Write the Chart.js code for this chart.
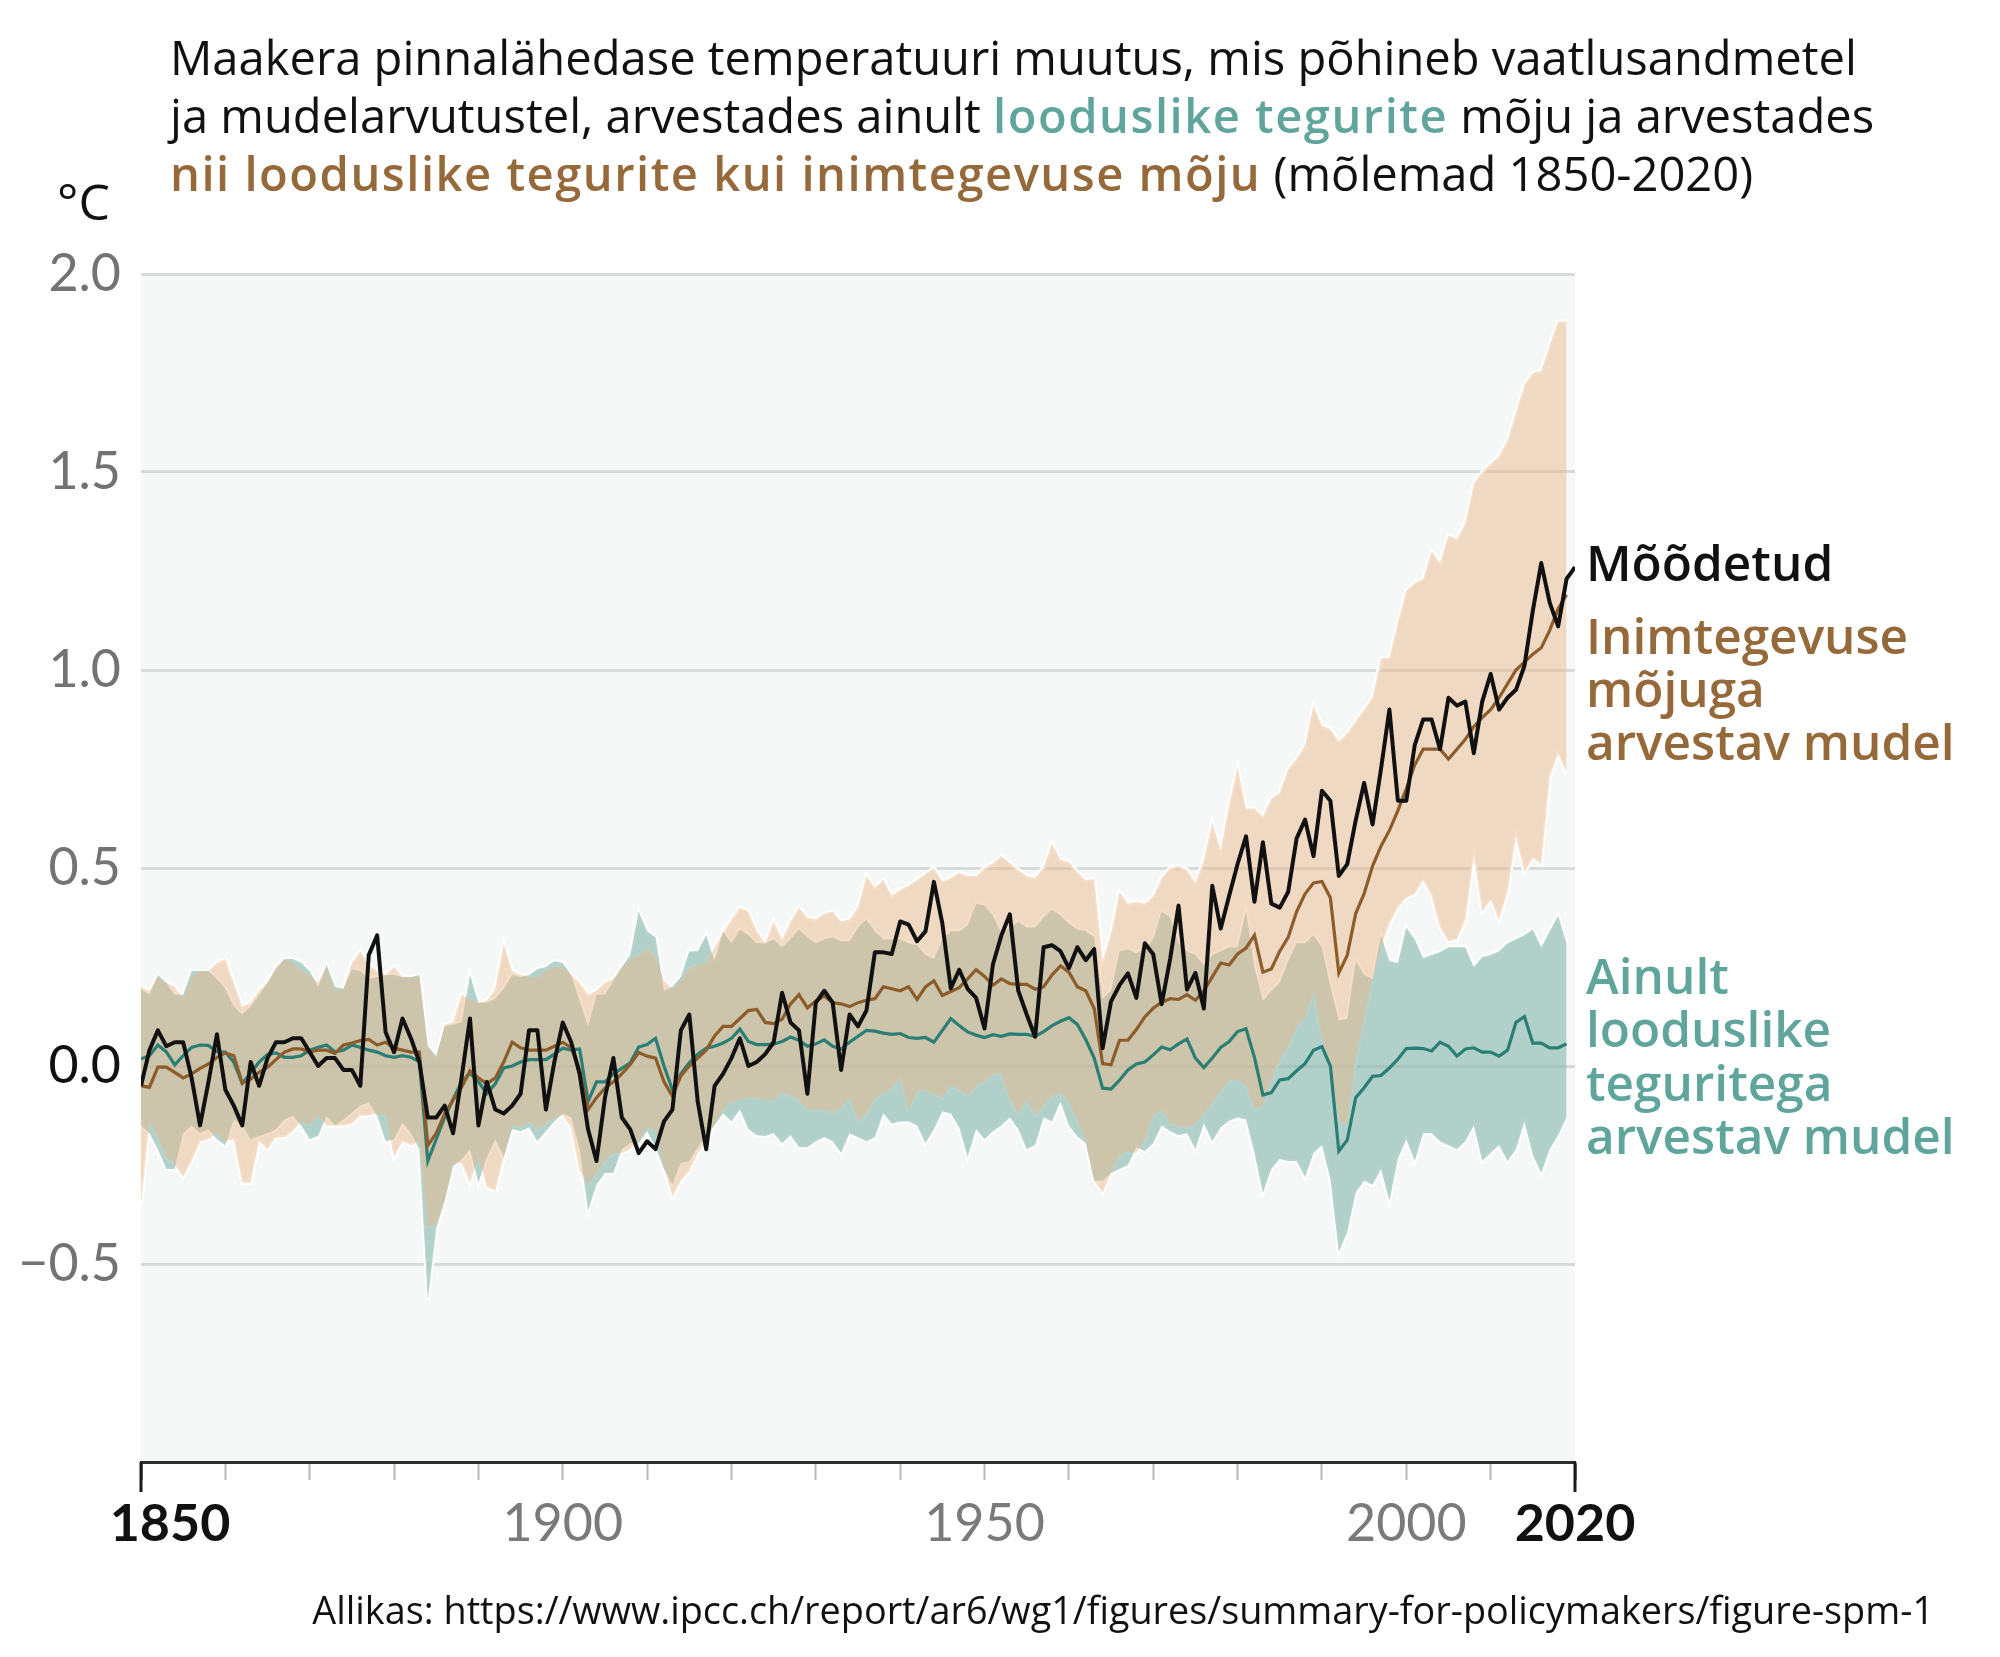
<!DOCTYPE html>
<html>
<head>
<meta charset="utf-8">
<script src="https://cdn.jsdelivr.net/npm/chart.js@4.4.1/dist/chart.umd.min.js"></script>
<style>
html,body{margin:0;padding:0;background:#ffffff;}
canvas{display:block;}
</style>
</head>
<body>
<canvas id="c" width="2000" height="1657"></canvas>
<script>
// ---------------- DATA (°C, relative to 1850-1900) ----------------
const firstYear = 1850;

// Observed (Mõõdetud), 1850-2020
const observed = [
  -0.05, 0.04, 0.09, 0.05, 0.06, 0.06, -0.03, -0.15, -0.04, 0.08,
  -0.06, -0.10, -0.15, 0.01, -0.05, 0.02, 0.06, 0.06, 0.07, 0.07,
  0.035, 0.00, 0.02, 0.02, -0.01, -0.01, -0.05, 0.28, 0.33, 0.085,
  0.035, 0.12, 0.07, 0.01, -0.13, -0.13, -0.10, -0.17, -0.03, 0.12,
  -0.15, -0.04, -0.11, -0.12, -0.10, -0.07, 0.09, 0.09, -0.11, 0.01,
  0.11, 0.06, -0.02, -0.16, -0.24, -0.08, 0.02, -0.13, -0.16, -0.22,
  -0.19, -0.21, -0.14, -0.11, 0.09, 0.13, -0.09, -0.21, -0.05, -0.02,
  0.02, 0.07, 0.00, 0.01, 0.03, 0.06, 0.185, 0.11, 0.09, -0.07,
  0.16, 0.19, 0.16, -0.01, 0.13, 0.10, 0.14, 0.287, 0.287, 0.283,
  0.365, 0.357, 0.315, 0.34, 0.465, 0.36, 0.196, 0.243, 0.195, 0.172,
  0.095, 0.257, 0.33, 0.383, 0.19, 0.13, 0.074, 0.30, 0.305, 0.29,
  0.247, 0.30, 0.267, 0.295, 0.045, 0.163, 0.204, 0.234, 0.172, 0.31,
  0.282, 0.156, 0.27, 0.405, 0.193, 0.235, 0.145, 0.455, 0.347, 0.43,
  0.51, 0.58, 0.415, 0.565, 0.41, 0.40, 0.44, 0.575, 0.622, 0.53,
  0.695, 0.67, 0.48, 0.51, 0.62, 0.715, 0.61, 0.75, 0.90, 0.67,
  0.67, 0.81, 0.875, 0.875, 0.80, 0.93, 0.91, 0.92, 0.79, 0.92,
  0.99, 0.90, 0.93, 0.95, 1.01, 1.15, 1.27, 1.17, 1.11, 1.23,
  1.26
];

// Model mean, human + natural factors, 1850-2019
const humanMean = [
  -0.05, -0.054, -0.003, -0.003, -0.016, -0.03, -0.02, -0.006, 0.005, 0.022,
  0.033, 0.026, -0.043, -0.033, -0.016, -0.003, 0.016, 0.035, 0.043, 0.043,
  0.036, 0.04, 0.04, 0.032, 0.053, 0.058, 0.064, 0.067, 0.053, 0.06,
  0.045, 0.04, 0.035, 0.035, -0.20, -0.17, -0.12, -0.086, -0.054, -0.012,
  -0.03, -0.045, -0.03, 0.01, 0.06, 0.046, 0.04, 0.04, 0.04, 0.05,
  0.06, 0.046, -0.01, -0.11, -0.08, -0.056, -0.04, -0.02, 0.004, 0.034,
  0.025, 0.02, -0.04, -0.076, -0.025, 0.0, 0.02, 0.04, 0.076, 0.10,
  0.10, 0.12, 0.14, 0.143, 0.11, 0.107, 0.118, 0.157, 0.18, 0.147,
  0.164, 0.177, 0.16, 0.157, 0.15, 0.16, 0.166, 0.17, 0.20, 0.195,
  0.19, 0.20, 0.168, 0.20, 0.215, 0.178, 0.188, 0.198, 0.22, 0.243,
  0.226, 0.204, 0.22, 0.208, 0.206, 0.206, 0.194, 0.20, 0.23, 0.253,
  0.237, 0.20, 0.19, 0.145, 0.006, 0.003, 0.065, 0.065, 0.092, 0.124,
  0.146, 0.161, 0.17, 0.168, 0.18, 0.166, 0.19, 0.225, 0.26, 0.255,
  0.283, 0.298, 0.33, 0.237, 0.245, 0.29, 0.325, 0.39, 0.435, 0.462,
  0.466, 0.425, 0.235, 0.28, 0.385, 0.435, 0.505, 0.555, 0.595, 0.645,
  0.70, 0.76, 0.80, 0.80, 0.80, 0.775, 0.80, 0.825, 0.857, 0.88,
  0.90, 0.93, 0.965, 1.0, 1.02, 1.04, 1.056, 1.10, 1.155, 1.19
];
const humanUpper = [
  0.20, 0.19, 0.225, 0.21, 0.20, 0.17, 0.225, 0.24, 0.24, 0.26,
  0.27, 0.21, 0.15, 0.16, 0.19, 0.21, 0.25, 0.27, 0.26, 0.24,
  0.23, 0.21, 0.25, 0.19, 0.195, 0.26, 0.29, 0.255, 0.24, 0.23,
  0.25, 0.225, 0.225, 0.225, 0.05, 0.02, 0.105, 0.11, 0.18, 0.17,
  0.16, 0.165, 0.195, 0.31, 0.24, 0.23, 0.225, 0.225, 0.24, 0.25,
  0.25, 0.23, 0.21, 0.18, 0.19, 0.21, 0.22, 0.25, 0.27, 0.28,
  0.295, 0.275, 0.215, 0.195, 0.215, 0.245, 0.255, 0.26, 0.30, 0.335,
  0.37, 0.40, 0.39, 0.34, 0.31, 0.365, 0.32, 0.365, 0.40, 0.375,
  0.37, 0.385, 0.39, 0.365, 0.37, 0.40, 0.48, 0.45, 0.47, 0.43,
  0.445, 0.455, 0.47, 0.485, 0.50, 0.465, 0.475, 0.488, 0.48, 0.48,
  0.50, 0.512, 0.53, 0.512, 0.495, 0.48, 0.475, 0.502, 0.562, 0.52,
  0.515, 0.49, 0.47, 0.472, 0.265, 0.335, 0.44, 0.41, 0.415, 0.41,
  0.428, 0.475, 0.50, 0.505, 0.495, 0.462, 0.52, 0.615, 0.545, 0.66,
  0.755, 0.65, 0.65, 0.63, 0.675, 0.69, 0.75, 0.775, 0.81, 0.91,
  0.86, 0.85, 0.82, 0.84, 0.87, 0.90, 0.93, 1.03, 1.03, 1.12,
  1.20, 1.22, 1.23, 1.30, 1.27, 1.34, 1.33, 1.37, 1.47, 1.50,
  1.52, 1.54, 1.58, 1.65, 1.72, 1.75, 1.755, 1.82, 1.88, 1.88
];
const humanLower = [
  -0.35, -0.14, -0.18, -0.23, -0.25, -0.28, -0.24, -0.19, -0.185, -0.17,
  -0.19, -0.185, -0.295, -0.295, -0.19, -0.21, -0.18, -0.18, -0.165, -0.14,
  -0.15, -0.125, -0.15, -0.15, -0.15, -0.145, -0.125, -0.125, -0.12, -0.125,
  -0.23, -0.19, -0.20, -0.19, -0.405, -0.40, -0.34, -0.245, -0.245, -0.295,
  -0.23, -0.305, -0.315, -0.23, -0.15, -0.155, -0.14, -0.16, -0.145, -0.13,
  -0.125, -0.155, -0.265, -0.30, -0.27, -0.24, -0.22, -0.22, -0.21, -0.19,
  -0.155, -0.165, -0.255, -0.33, -0.29, -0.265, -0.22, -0.19, -0.145, -0.11,
  -0.09, -0.085, -0.08, -0.08, -0.085, -0.085, -0.065, -0.075, -0.085, -0.11,
  -0.11, -0.11, -0.12, -0.105, -0.08, -0.14, -0.12, -0.08, -0.07, -0.055,
  -0.03, -0.11, -0.065, -0.06, -0.07, -0.08, -0.05, -0.06, -0.075, -0.05,
  -0.04, -0.02, -0.02, -0.085, -0.12, -0.085, -0.125, -0.10, -0.075, -0.07,
  -0.09, -0.135, -0.19, -0.29, -0.32, -0.27, -0.225, -0.215, -0.22, -0.185,
  -0.125, -0.11, -0.145, -0.15, -0.155, -0.145, -0.12, -0.095, -0.065, -0.035,
  -0.035, -0.05, -0.11, -0.10, -0.035, 0.015, 0.05, 0.10, 0.12, 0.19,
  0.07, 0.0, -0.135, -0.15, 0.015, 0.12, 0.22, 0.30, 0.36, 0.40,
  0.425, 0.435, 0.47, 0.43, 0.35, 0.315, 0.32, 0.37, 0.53, 0.39,
  0.42, 0.37, 0.44, 0.58, 0.49, 0.525, 0.51, 0.73, 0.79, 0.74
];

// Model mean, natural factors only, 1850-2019
const naturalMean = [
  0.018, 0.026, 0.053, 0.036, 0.003, 0.026, 0.047, 0.053, 0.052, 0.036,
  0.035, 0.01, -0.044, -0.018, 0.01, 0.029, 0.033, 0.022, 0.022, 0.026,
  0.04, 0.047, 0.053, 0.036, 0.04, 0.053, 0.047, 0.04, 0.035, 0.026,
  0.022, 0.026, 0.022, 0.011, -0.24, -0.185, -0.13, -0.084, -0.041, -0.018,
  -0.04, -0.07, -0.045, -0.005, 0.0, 0.01, 0.016, 0.016, 0.016, 0.03,
  0.045, 0.04, 0.043, -0.09, -0.04, -0.04, -0.02, -0.006, 0.008, 0.048,
  0.054, 0.07, 0.0, -0.06, -0.02, 0.008, 0.03, 0.045, 0.05, 0.058,
  0.07, 0.093, 0.062, 0.054, 0.054, 0.055, 0.062, 0.073, 0.065, 0.05,
  0.056, 0.066, 0.05, 0.043, 0.06, 0.075, 0.09, 0.088, 0.083, 0.08,
  0.082, 0.072, 0.07, 0.072, 0.06, 0.09, 0.12, 0.102, 0.086, 0.078,
  0.072, 0.079, 0.075, 0.081, 0.08, 0.08, 0.075, 0.087, 0.102, 0.113,
  0.122, 0.105, 0.067, 0.02, -0.056, -0.058, -0.036, -0.01, 0.005, 0.01,
  0.028, 0.048, 0.041, 0.056, 0.068, 0.02, -0.004, 0.02, 0.047, 0.062,
  0.087, 0.094, 0.022, -0.073, -0.067, -0.035, -0.032, -0.012, 0.006, 0.04,
  0.049, 0.0, -0.215, -0.187, -0.08, -0.055, -0.026, -0.024, -0.005, 0.017,
  0.044, 0.045, 0.044, 0.038, 0.06, 0.05, 0.025, 0.043, 0.046, 0.035,
  0.035, 0.025, 0.04, 0.11, 0.125, 0.058, 0.058, 0.046, 0.046, 0.056
];
const naturalUpper = [
  0.195, 0.18, 0.23, 0.21, 0.18, 0.18, 0.24, 0.24, 0.24, 0.22,
  0.195, 0.15, 0.13, 0.15, 0.18, 0.21, 0.245, 0.27, 0.27, 0.26,
  0.24, 0.20, 0.255, 0.20, 0.195, 0.245, 0.24, 0.22, 0.225, 0.23,
  0.23, 0.225, 0.225, 0.23, 0.05, 0.025, 0.10, 0.105, 0.11, 0.23,
  0.16, 0.16, 0.17, 0.195, 0.23, 0.225, 0.23, 0.245, 0.25, 0.265,
  0.26, 0.23, 0.165, 0.10, 0.18, 0.18, 0.215, 0.25, 0.28, 0.39,
  0.34, 0.325, 0.19, 0.20, 0.225, 0.29, 0.29, 0.33, 0.265, 0.34,
  0.31, 0.345, 0.33, 0.31, 0.31, 0.32, 0.30, 0.32, 0.345, 0.325,
  0.31, 0.32, 0.325, 0.315, 0.315, 0.35, 0.37, 0.34, 0.32, 0.32,
  0.32, 0.31, 0.305, 0.28, 0.27, 0.32, 0.34, 0.34, 0.355, 0.41,
  0.405, 0.38, 0.335, 0.35, 0.365, 0.35, 0.35, 0.375, 0.395, 0.38,
  0.36, 0.345, 0.34, 0.325, 0.17, 0.19, 0.29, 0.295, 0.285, 0.295,
  0.32, 0.39, 0.375, 0.31, 0.29, 0.28, 0.255, 0.28, 0.29, 0.30,
  0.30, 0.39, 0.25, 0.165, 0.19, 0.21, 0.265, 0.31, 0.31, 0.33,
  0.30, 0.20, 0.115, 0.12, 0.265, 0.23, 0.22, 0.33, 0.265, 0.26,
  0.35, 0.32, 0.272, 0.28, 0.288, 0.30, 0.30, 0.30, 0.25, 0.275,
  0.28, 0.29, 0.31, 0.32, 0.33, 0.345, 0.30, 0.34, 0.38, 0.31
];
const naturalLower = [
  -0.15, -0.17, -0.21, -0.26, -0.26, -0.17, -0.15, -0.17, -0.16, -0.185,
  -0.20, -0.135, -0.15, -0.185, -0.177, -0.17, -0.16, -0.135, -0.126, -0.15,
  -0.185, -0.177, -0.126, -0.15, -0.135, -0.118, -0.10, -0.092, -0.126, -0.19,
  -0.185, -0.143, -0.17, -0.21, -0.59, -0.41, -0.34, -0.253, -0.236, -0.21,
  -0.295, -0.23, -0.185, -0.23, -0.16, -0.165, -0.155, -0.19, -0.165, -0.14,
  -0.12, -0.13, -0.21, -0.365, -0.30, -0.27, -0.27, -0.21, -0.195, -0.195,
  -0.165, -0.205, -0.26, -0.30, -0.245, -0.24, -0.205, -0.175, -0.15, -0.12,
  -0.14, -0.11, -0.16, -0.175, -0.177, -0.17, -0.195, -0.175, -0.205, -0.205,
  -0.19, -0.18, -0.19, -0.22, -0.17, -0.18, -0.19, -0.18, -0.12, -0.145,
  -0.14, -0.14, -0.15, -0.195, -0.16, -0.115, -0.12, -0.155, -0.23, -0.16,
  -0.185, -0.165, -0.15, -0.13, -0.16, -0.21, -0.20, -0.13, -0.14, -0.09,
  -0.15, -0.178, -0.195, -0.29, -0.29, -0.27, -0.26, -0.25, -0.205, -0.215,
  -0.195, -0.15, -0.165, -0.175, -0.17, -0.21, -0.145, -0.19, -0.155, -0.138,
  -0.13, -0.135, -0.22, -0.32, -0.26, -0.235, -0.24, -0.24, -0.28, -0.22,
  -0.20, -0.285, -0.47, -0.42, -0.32, -0.29, -0.30, -0.26, -0.34, -0.235,
  -0.185, -0.24, -0.17, -0.17, -0.19, -0.20, -0.21, -0.19, -0.15, -0.24,
  -0.22, -0.20, -0.24, -0.21, -0.14, -0.225, -0.27, -0.21, -0.175, -0.13
];

// Axis labels
const xLabelYears = [1850, 1900, 1950, 2000, 2020];
const xBoldYears = [1850, 2020];
const yMin = -1, yMax = 2, yStep = 0.5;

// Texts: [text, colour, weight, letter spacing]
const titleLines = [
  [["Maakera pinnalähedase temperatuuri muutus, mis põhineb vaatlusandmetel", "#111111", 400, 0]],
  [["ja mudelarvutustel, arvestades ainult ", "#111111", 400, 0],
   ["looduslike tegurite", "#5fa59b", 600, 1.5],
   [" mõju ja arvestades", "#111111", 400, 0]],
  [["nii looduslike tegurite kui inimtegevuse mõju", "#96693a", 600, 1.5],
   [" (mõlemad 1850-2020)", "#111111", 400, 0]]
];
const unitLabel = "°C";
const observedLabel = ["Mõõdetud"];
const humanLabel = ["Inimtegevuse", "mõjuga", "arvestav mudel"];
const naturalLabel = ["Ainult", "looduslike", "teguritega", "arvestav mudel"];
const sourceText = "Allikas: https://www.ipcc.ch/report/ar6/wg1/figures/summary-for-policymakers/figure-spm-1";

// ---------------- CHART ----------------
const years = observed.map((_, i) => firstYear + i);
const pts = arr => arr.map((v, i) => ({x: years[i], y: v}));

function lineDs(arr, color, width, order, extra) {
  return Object.assign({
    data: pts(arr), borderColor: color, borderWidth: width,
    pointRadius: 0, pointHoverRadius: 0, tension: 0, fill: false, order: order
  }, extra || {});
}

const PEACH = 'rgba(233,182,136,0.47)';
const TEALBAND = 'rgba(131,181,172,0.6)';

const bgPlugin = {
  id: 'bgPlugin',
  beforeDraw(chart) {
    const {ctx, chartArea: a} = chart;
    ctx.save();
    ctx.fillStyle = '#ffffff';
    ctx.fillRect(0, 0, chart.width, chart.height);
    ctx.fillStyle = '#f6f8f7';
    ctx.fillRect(a.left, a.top, a.right - a.left, a.bottom - a.top);
    ctx.restore();
  }
};

// draw text with optional letter spacing, returns advance
function drawSpaced(ctx, text, x, y, spacing) {
  if (!spacing) { ctx.fillText(text, x, y); return ctx.measureText(text).width; }
  let cx = x;
  for (const ch of text) {
    ctx.fillText(ch, cx, y);
    cx += ctx.measureText(ch).width + spacing;
  }
  return cx - x;
}

const textPlugin = {
  id: 'textPlugin',
  afterDraw(chart) {
    const ctx = chart.ctx;
    const xs = chart.scales.x;
    const a = chart.chartArea;
    ctx.save();
    ctx.textBaseline = 'alphabetic';
    ctx.textAlign = 'left';

    // Title (fit first line to reference width)
    const OS = '"Open Sans", "DejaVu Sans", sans-serif';
    ctx.font = `400 100px ${OS}`;
    const titleSize = 100 * 1687 / ctx.measureText(titleLines[0][0][0]).width;
    const titleBase = [75, 133, 191];
    titleLines.forEach((segs, li) => {
      let x = 170;
      segs.forEach(([t, c, w, sp]) => {
        ctx.font = `${w} ${titleSize}px ${OS}`;
        ctx.fillStyle = c;
        x += drawSpaced(ctx, t, x, titleBase[li], sp);
      });
    });

    // Unit
    ctx.font = `500 50px ${OS}`;
    ctx.fillStyle = '#111111';
    ctx.fillText(unitLabel, 57, 220);

    // Right-side series labels
    ctx.font = `600 49.5px ${OS}`;
    ctx.fillStyle = '#111111';
    ctx.fillText(observedLabel[0], 1586, 581);
    ctx.fillStyle = '#96693a';
    [654, 707, 760].forEach((y, i) => ctx.fillText(humanLabel[i], 1586, y));
    ctx.fillStyle = '#5fa59b';
    [994, 1047, 1101, 1154].forEach((y, i) => ctx.fillText(naturalLabel[i], 1586, y));

    // X-axis labels
    ctx.textAlign = 'center';
    xLabelYears.forEach(yr => {
      const bold = xBoldYears.includes(yr);
      ctx.font = `${bold ? 700 : 400} 52px Lato, sans-serif`;
      ctx.fillStyle = bold ? '#111111' : '#7a7a7a';
      const px = xs.getPixelForValue(yr) + (yr === firstYear ? 29 : 0);
      ctx.fillText(String(yr), px, 1541);
    });

    // Longer end tick marks
    ctx.strokeStyle = '#1a1a1a';
    ctx.lineWidth = 3;
    xBoldYears.forEach(yr => {
      const px = Math.round(xs.getPixelForValue(yr));
      ctx.beginPath();
      ctx.moveTo(px, a.bottom);
      ctx.lineTo(px, a.bottom + 30);
      ctx.stroke();
    });

    // Source
    ctx.textAlign = 'right';
    ctx.font = `400 34px ${OS}`;
    const sw = ctx.measureText(sourceText).width;
    const srcSize = 34 * 1622 / sw;
    ctx.font = `400 ${srcSize}px ${OS}`;
    ctx.fillStyle = '#111111';
    ctx.fillText(sourceText, 1934, 1624);
    ctx.restore();
  }
};

new Chart(document.getElementById('c'), {
  type: 'line',
  data: {
    datasets: [
      lineDs(observed, '#111111', 4, 1, {borderJoinStyle: 'round'}),
      lineDs(humanMean, '#8c5c2b', 3.2, 2),
      lineDs(naturalMean, '#2a7e73', 3.2, 3),
      lineDs(humanUpper, 'rgba(0,0,0,0)', 0, 4, {fill: '+1', backgroundColor: PEACH}),
      lineDs(humanLower, 'rgba(0,0,0,0)', 0, 4),
      lineDs(naturalUpper, 'rgba(0,0,0,0)', 0, 5, {fill: '+1', backgroundColor: TEALBAND}),
      lineDs(naturalLower, 'rgba(0,0,0,0)', 0, 5),
      lineDs(humanUpper, '#ffffff', 4, 6),
      lineDs(humanLower, '#ffffff', 4, 6),
      lineDs(naturalUpper, '#ffffff', 4, 6),
      lineDs(naturalLower, '#ffffff', 4, 6)
    ]
  },
  options: {
    responsive: false,
    devicePixelRatio: 1,
    animation: false,
    events: [],
    layout: {padding: {top: 274, right: 425, bottom: 95, left: 0}},
    plugins: {legend: {display: false}, tooltip: {enabled: false}},
    scales: {
      x: {
        type: 'linear', min: firstYear, max: 2020,
        ticks: {display: false, stepSize: 10},
        grid: {
          drawOnChartArea: false, drawTicks: true, tickLength: 18,
          tickColor: c => (c.tick && xBoldYears.includes(c.tick.value)) ? '#1a1a1a' : '#b9b9b9',
          tickWidth: 2
        },
        border: {display: true, color: '#2d2d2d', width: 3},
        afterFit: s => { s.height = 100; }
      },
      y: {
        min: yMin, max: yMax,
        ticks: {
          stepSize: yStep, padding: 20,
          font: {family: 'Lato', size: 52},
          color: c => (c.tick && c.tick.value === 0) ? '#111111' : '#737373',
          callback: v => v === yMin ? '' : (v < 0 ? '\u2212' : '') + Math.abs(v).toFixed(1)
        },
        grid: {
          drawTicks: false, lineWidth: 3,
          color: c => (c.tick && c.tick.value === yMin) ? 'rgba(0,0,0,0)' : '#d9dbdb'
        },
        border: {display: false},
        afterFit: s => { s.width = 141; }
      }
    }
  },
  plugins: [bgPlugin, textPlugin]
});
</script>
</body>
</html>
